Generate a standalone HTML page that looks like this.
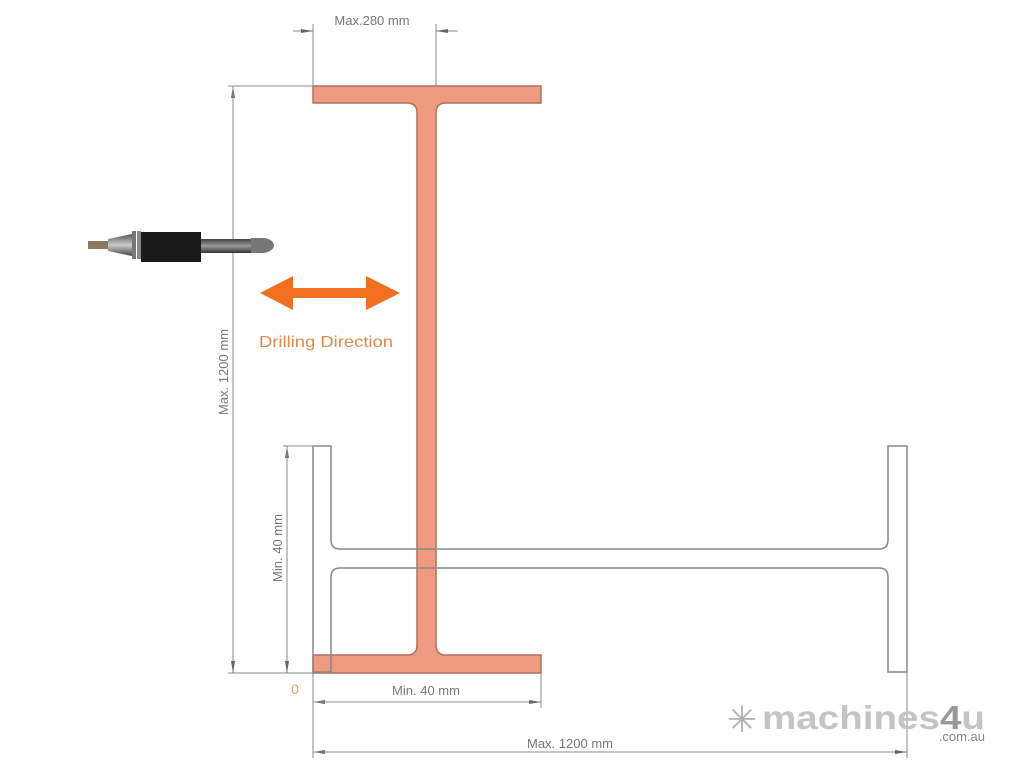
<!DOCTYPE html>
<html><head><meta charset="utf-8"><style>
html,body{margin:0;padding:0;background:#fff;}
svg{display:block;}
text{font-family:"Liberation Sans",sans-serif;}
</style></head><body>
<svg width="1024" height="768" viewBox="0 0 1024 768" xmlns="http://www.w3.org/2000/svg">
<defs>
<marker id="ar" markerWidth="12" markerHeight="6" refX="12" refY="3" orient="auto-start-reverse" markerUnits="userSpaceOnUse">
<path d="M0,1 L12,3 L0,5 Z" fill="#666"/></marker>
<linearGradient id="cone" x1="0" y1="0" x2="0" y2="1"><stop offset="0" stop-color="#555"/><stop offset="0.5" stop-color="#ccc"/><stop offset="1" stop-color="#444"/></linearGradient>
<linearGradient id="shank" x1="0" y1="0" x2="0" y2="1"><stop offset="0" stop-color="#444"/><stop offset="0.5" stop-color="#999"/><stop offset="1" stop-color="#333"/></linearGradient>
</defs>

<path d="M313,86 H541 V103 H446 Q436,103 436,113 V645 Q436,655 446,655 H541 V673 H313 V655 H407 Q417,655 417,645 V113 Q417,103 407,103 H313 Z" fill="#ee9a80" stroke="#b07060" stroke-width="1.5"/>

<path d="M313,446 H331 V540 Q331,549 340,549 H879 Q888,549 888,540 V446 H907 V672 H888 V577 Q888,568 879,568 H340 Q331,568 331,577 V672 H313 Z" fill="none" stroke="#888" stroke-width="1.5"/>

<g stroke="#888" stroke-width="1" fill="none">
<line x1="313" y1="24" x2="313" y2="86"/>
<line x1="436" y1="24" x2="436" y2="86"/>
<line x1="293" y1="31" x2="313" y2="31" marker-end="url(#ar)"/>
<line x1="458" y1="31" x2="436" y2="31" marker-end="url(#ar)"/>
<line x1="228" y1="86" x2="313" y2="86"/>
<line x1="228" y1="673" x2="313" y2="673"/>
<line x1="233" y1="673" x2="233" y2="86" marker-end="url(#ar)"/>
<line x1="233" y1="86" x2="233" y2="673" marker-end="url(#ar)"/>
<line x1="283" y1="446" x2="313" y2="446"/>
<line x1="287" y1="673" x2="287" y2="446" marker-end="url(#ar)"/>
<line x1="287" y1="446" x2="287" y2="673" marker-end="url(#ar)"/>
<line x1="313" y1="673" x2="313" y2="758"/>
<line x1="541" y1="673" x2="541" y2="708"/>
<line x1="907" y1="672" x2="907" y2="758"/>
<line x1="541" y1="702" x2="313" y2="702" marker-end="url(#ar)"/>
<line x1="313" y1="702" x2="541" y2="702" marker-end="url(#ar)"/>
<line x1="907" y1="752" x2="313" y2="752" marker-end="url(#ar)"/>
<line x1="313" y1="752" x2="907" y2="752" marker-end="url(#ar)"/>
</g>

<text x="372" y="25" font-size="13" fill="#777" text-anchor="middle">Max.280 mm</text>
<text x="426" y="695" font-size="13" fill="#777" text-anchor="middle">Min. 40 mm</text>
<text x="570" y="748" font-size="13" fill="#777" text-anchor="middle">Max. 1200 mm</text>
<text x="228" y="372" font-size="13" fill="#777" text-anchor="middle" transform="rotate(-90 228 372)">Max. 1200 mm</text>
<text x="282" y="548" font-size="13" fill="#777" text-anchor="middle" transform="rotate(-90 282 548)">Min. 40 mm</text>
<text x="295" y="694" font-size="14" fill="#e8a060" text-anchor="middle">0</text>

<path d="M260,293 L293,276 L293,288 L366,288 L366,276 L400,293 L366,310 L366,298 L293,298 L293,310 Z" fill="#f07020"/>
<text x="326" y="347" font-size="16" fill="#e08a4a" text-anchor="middle" textLength="134" lengthAdjust="spacingAndGlyphs">Drilling Direction</text>

<rect x="88" y="241" width="22" height="8" fill="#8a7a60"/>
<path d="M108,239 L132,234 L132,256 L108,251 Z" fill="url(#cone)"/>
<rect x="132" y="231" width="4" height="28" fill="#777"/>
<rect x="137" y="231" width="4" height="28" fill="#888"/>
<rect x="141" y="232" width="60" height="30" fill="#1a1a1a"/>
<rect x="201" y="239" width="50" height="14" fill="url(#shank)"/>
<path d="M251,238 L265,238 Q274,240 274,246 Q273,251 264,253 L251,253 Z" fill="#777"/>

<text x="742" y="732" font-size="36" fill="#b0b0b0" text-anchor="middle">✳</text>
<text x="762" y="729" font-size="33" font-weight="bold" fill="#c4c4c4" textLength="223" lengthAdjust="spacingAndGlyphs">machines<tspan fill="#999">4</tspan>u</text>
<text x="985" y="741" font-size="13" fill="#888" text-anchor="end">.com.au</text>
</svg>
</body></html>
